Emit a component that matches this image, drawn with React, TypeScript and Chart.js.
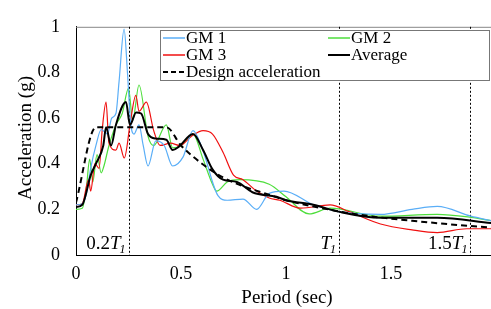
import React, { useEffect, useRef } from "react";
import { Chart, registerables } from "chart.js";

Chart.register(...registerables);

const xTicks = [0, 0.5, 1, 1.5];
const yTicks = [0, 0.2, 0.4, 0.6, 0.8, 1];
const T1 = 1.252;

const gm1T = [0, 0.03, 0.05, 0.07, 0.095, 0.12, 0.15, 0.17, 0.19, 0.205, 0.229, 0.245, 0.26, 0.276, 0.3, 0.32, 0.343, 0.38, 0.42, 0.46, 0.51, 0.557, 0.6, 0.676, 0.72, 0.795, 0.86, 0.92, 0.99, 1.13, 1.25, 1.45, 1.6, 1.72, 1.88, 1.98];
const gm1A = [0.22, 0.225, 0.27, 0.38, 0.48, 0.55, 0.53, 0.6, 0.62, 0.76, 0.99, 0.8, 0.58, 0.53, 0.57, 0.48, 0.39, 0.5, 0.48, 0.39, 0.43, 0.545, 0.47, 0.26, 0.24, 0.245, 0.2, 0.27, 0.28, 0.22, 0.19, 0.178, 0.2, 0.213, 0.17, 0.15];

const gm2T = [0, 0.03, 0.05, 0.065, 0.08, 0.1, 0.12, 0.133, 0.157, 0.19, 0.22, 0.25, 0.27, 0.3, 0.343, 0.37, 0.43, 0.46, 0.5, 0.557, 0.605, 0.65, 0.67, 0.72, 0.78, 0.92, 1.0, 1.11, 1.21, 1.45, 1.72, 1.88, 1.98];
const gm2A = [0.2, 0.205, 0.3, 0.42, 0.32, 0.44, 0.36, 0.39, 0.48, 0.57, 0.62, 0.73, 0.59, 0.745, 0.52, 0.48, 0.57, 0.47, 0.48, 0.53, 0.42, 0.31, 0.28, 0.32, 0.33, 0.31, 0.255, 0.18, 0.205, 0.17, 0.178, 0.165, 0.15];

const gm3T = [0, 0.03, 0.06, 0.07, 0.09, 0.11, 0.125, 0.143, 0.157, 0.19, 0.205, 0.23, 0.26, 0.285, 0.3, 0.335, 0.37, 0.4, 0.45, 0.495, 0.55, 0.605, 0.65, 0.7, 0.75, 0.795, 0.86, 0.92, 0.97, 1.07, 1.21, 1.3, 1.45, 1.6, 1.72, 1.86, 1.98];
const gm3A = [0.22, 0.225, 0.33, 0.28, 0.4, 0.38, 0.55, 0.67, 0.49, 0.46, 0.49, 0.425, 0.59, 0.7, 0.63, 0.67, 0.545, 0.48, 0.49, 0.48, 0.52, 0.545, 0.53, 0.45, 0.35, 0.33, 0.28, 0.25, 0.24, 0.205, 0.22, 0.19, 0.136, 0.11, 0.098, 0.115, 0.115];

const avgT = [0, 0.03, 0.07, 0.095, 0.13, 0.143, 0.167, 0.19, 0.238, 0.257, 0.286, 0.31, 0.343, 0.38, 0.43, 0.46, 0.49, 0.557, 0.605, 0.65, 0.7, 0.766, 0.84, 0.955, 1.0, 1.13, 1.25, 1.45, 1.72, 1.98];
const avgA = [0.21, 0.22, 0.35, 0.4, 0.48, 0.56, 0.48, 0.57, 0.67, 0.57, 0.625, 0.62, 0.53, 0.51, 0.505, 0.46, 0.475, 0.53, 0.46, 0.375, 0.33, 0.32, 0.275, 0.255, 0.24, 0.22, 0.19, 0.163, 0.163, 0.14];

const designT = [0, 0.095, 0.43, 0.5, 0.6, 0.7, 0.8, 0.9, 1.0, 1.2, 1.4, 1.6, 1.8, 1.98];
const designA = [0.23, 0.56, 0.56, 0.48, 0.4, 0.34, 0.3, 0.27, 0.24, 0.2, 0.17, 0.15, 0.133, 0.12];

const seriesNames = ["GM 1", "GM 2", "GM 3", "Average", "Design acceleration"];
const seriesColors = ["#5aaef7", "#4ede3c", "#f01010", "#000000", "#000000"];

const FONT = "'Liberation Serif', 'Times New Roman', serif";

const pts = (t: number[], a: number[]) => t.map((x, i) => ({ x, y: a[i] }));

const overlay = {
  id: "overlay",
  beforeDatasetsDraw(chart: any) {
    const { ctx, chartArea, scales } = chart;
    ctx.save();
    ctx.strokeStyle = "#888";
    ctx.lineWidth = 1;
    ctx.beginPath();
    ctx.moveTo(chartArea.left, chartArea.top + 0.5);
    ctx.lineTo(chartArea.right, chartArea.top + 0.5);
    ctx.stroke();
    ctx.strokeStyle = "#000";
    ctx.setLineDash([2, 2]);
    [0.2 * T1, T1, 1.5 * T1].forEach((v) => {
      const x = Math.round(scales.x.getPixelForValue(v)) + 0.5;
      ctx.beginPath();
      ctx.moveTo(x, chartArea.top);
      ctx.lineTo(x, chartArea.bottom);
      ctx.stroke();
    });
    ctx.setLineDash([]);
    const labels = [
      { v: 0.2 * T1, pre: "0.2" },
      { v: T1, pre: "" },
      { v: 1.5 * T1, pre: "1.5" },
    ];
    ctx.fillStyle = "#000";
    ctx.textBaseline = "alphabetic";
    ctx.textAlign = "left";
    labels.forEach((l) => {
      const xr = scales.x.getPixelForValue(l.v) - 2;
      ctx.font = `19px ${FONT}`;
      const wPre = ctx.measureText(l.pre).width;
      ctx.font = `italic 19px ${FONT}`;
      const wT = ctx.measureText("T").width;
      ctx.font = `italic 12px ${FONT}`;
      const wS = ctx.measureText("1").width;
      let x = xr - wPre - wT - wS;
      const y = 249;
      ctx.font = `19px ${FONT}`;
      ctx.fillText(l.pre, x, y);
      x += wPre;
      ctx.font = `italic 19px ${FONT}`;
      ctx.fillText("T", x, y);
      x += wT - 1;
      ctx.font = `italic 12px ${FONT}`;
      ctx.fillText("1", x, y + 4);
    });
    ctx.restore();
  },
  afterDraw(chart: any) {
    const { ctx } = chart;
    ctx.save();
    ctx.fillStyle = "#000";
    ctx.font = `19px ${FONT}`;
    ctx.textAlign = "center";
    ctx.textBaseline = "middle";
    ctx.fillText("Period (sec)", 287, 298);
    ctx.translate(26, 138);
    ctx.rotate(-Math.PI / 2);
    ctx.fillText("Acceleration (g)", 0, 0);
    ctx.restore();

    ctx.save();
    const bx = 160.5, by = 30.5, bw = 329, bh = 50;
    ctx.fillStyle = "#fff";
    ctx.fillRect(bx, by, bw, bh);
    ctx.strokeStyle = "#777";
    ctx.lineWidth = 1;
    ctx.strokeRect(bx, by, bw, bh);
    const items = [
      { i: 0, x: 163, y: 38 },
      { i: 1, x: 328, y: 38 },
      { i: 2, x: 163, y: 55 },
      { i: 3, x: 328, y: 55 },
      { i: 4, x: 163, y: 72 },
    ];
    ctx.font = `17px ${FONT}`;
    ctx.textAlign = "left";
    ctx.textBaseline = "middle";
    items.forEach((it) => {
      ctx.strokeStyle = seriesColors[it.i];
      ctx.lineWidth = it.i >= 3 ? 2 : 1.5;
      ctx.setLineDash(it.i === 4 ? [5, 3] : []);
      ctx.beginPath();
      ctx.moveTo(it.x, it.y);
      ctx.lineTo(it.x + 22, it.y);
      ctx.stroke();
      ctx.setLineDash([]);
      ctx.fillStyle = "#000";
      ctx.fillText(seriesNames[it.i], it.x + 23, it.y + 1);
    });
    ctx.restore();
  },
};

export default function App() {
  const ref = useRef<HTMLCanvasElement>(null);
  useEffect(() => {
    document.body.style.margin = "0";
    const canvas = ref.current!;
    const base = {
      showLine: true,
      pointRadius: 0,
      fill: false,
      cubicInterpolationMode: "monotone" as const,
    };
    const chart = new Chart(canvas, {
      type: "scatter",
      data: {
        datasets: [
          { ...base, label: seriesNames[4], data: pts(designT, designA), borderColor: seriesColors[4], borderWidth: 2, borderDash: [6, 4] },
          { ...base, label: seriesNames[3], data: pts(avgT, avgA), borderColor: seriesColors[3], borderWidth: 2 },
          { ...base, label: seriesNames[0], data: pts(gm1T, gm1A), borderColor: seriesColors[0], borderWidth: 1.2 },
          { ...base, label: seriesNames[2], data: pts(gm3T, gm3A), borderColor: seriesColors[2], borderWidth: 1.2 },
          { ...base, label: seriesNames[1], data: pts(gm2T, gm2A), borderColor: seriesColors[1], borderWidth: 1.2 },
        ],
      },
      options: {
        animation: false,
        responsive: false,
        layout: { padding: { top: 20, right: 0, left: 0, bottom: 0 } },
        plugins: { legend: { display: false }, tooltip: { enabled: false } },
        scales: {
          x: {
            type: "linear",
            min: 0,
            max: 1.976,
            grid: { display: false, drawTicks: false },
            border: { display: true, color: "#000", width: 1 },
            ticks: {
              font: { family: FONT, size: 18 },
              color: "#000",
              padding: 8,
              maxRotation: 0,
              callback: (v: any) => String(Math.round(Number(v) * 10) / 10),
            },
            afterBuildTicks: (s: any) => { s.ticks = xTicks.map((v) => ({ value: v })); },
            afterFit: (s: any) => { s.height = 54; },
          },
          y: {
            min: 0,
            max: 1,
            grid: { display: false, drawTicks: false },
            border: { display: true, color: "#000", width: 1 },
            ticks: {
              font: { family: FONT, size: 18 },
              color: "#000",
              padding: 16,
              callback: (v: any) => String(Math.round(Number(v) * 10) / 10),
            },
            afterBuildTicks: (s: any) => { s.ticks = yTicks.map((v) => ({ value: v })); },
            afterFit: (s: any) => { s.width = 76; },
          },
        },
      },
      plugins: [overlay],
    });
    return () => chart.destroy();
  }, []);
  return (
    <div style={{ width: 491, height: 309, background: "#fff" }}>
      <canvas ref={ref} width={491} height={309} />
    </div>
  );
}
